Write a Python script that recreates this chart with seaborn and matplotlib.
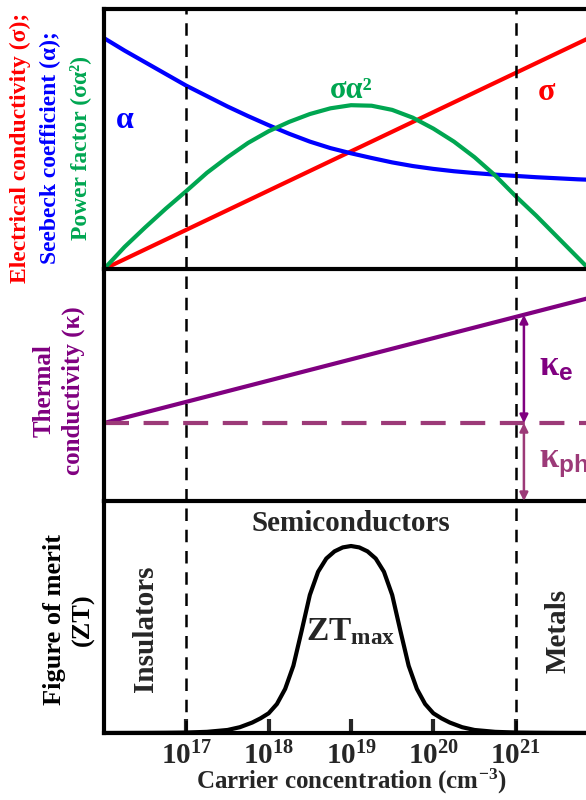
import numpy as np
import pandas as pd
import seaborn as sns
import matplotlib
matplotlib.use("Agg")
import matplotlib.pyplot as plt

# log10 of carrier concentration, 0.25 decade grid for panel 1
logn = [16.0, 16.25, 16.5, 16.75, 17.0, 17.25, 17.5, 17.75, 18.0, 18.25, 18.5, 18.75,
        19.0, 19.25, 19.5, 19.75, 20.0, 20.25, 20.5, 20.75, 21.0, 21.25, 21.5, 21.75, 22.0]
seebeck = [0.888, 0.84, 0.795, 0.75, 0.705, 0.665, 0.625, 0.588, 0.553, 0.52, 0.49, 0.465,
           0.445, 0.427, 0.41, 0.396, 0.385, 0.376, 0.369, 0.363, 0.358, 0.353, 0.349, 0.345, 0.342]
power_factor = [0.0, 0.085, 0.16, 0.232, 0.30, 0.37, 0.43, 0.485, 0.53, 0.566, 0.596, 0.618,
                0.63, 0.628, 0.612, 0.582, 0.54, 0.49, 0.43, 0.36, 0.28, 0.205, 0.125, 0.045, -0.035]
sigma_x = [16.0, 22.0]
sigma = [0.0, 0.905]

# thermal conductivity
kappa_x = [16.0, 22.0]
kappa = [0.336, 0.885]
kappa_ph = 0.336
arrow_x = 21.1
kappa_at_arrow = 0.802

# figure of merit
zt_x = [16.0, 16.5, 16.75, 17.0, 17.25, 17.5, 17.65, 17.8, 17.9, 18.0, 18.1, 18.2, 18.3, 18.4,
        18.5, 18.6, 18.7, 18.8, 18.9, 19.0, 19.1, 19.2, 19.3, 19.4, 19.5, 19.6, 19.7, 19.8,
        19.9, 20.0, 20.1, 20.2, 20.35, 20.5, 20.75, 21.0, 21.25, 21.5, 22.0]
zt = [0.0, 0.0005, 0.001, 0.002, 0.005, 0.013, 0.025, 0.045, 0.063, 0.085, 0.125, 0.19, 0.29,
      0.44, 0.595, 0.695, 0.752, 0.783, 0.80, 0.806, 0.80, 0.783, 0.752, 0.695, 0.595, 0.44,
      0.29, 0.19, 0.125, 0.085, 0.063, 0.045, 0.025, 0.013, 0.005, 0.002, 0.001, 0.0005, 0.0]

ticks = [17, 18, 19, 20, 21]
tick_labels = [r"$\mathregular{10^{%d}}$" % t for t in ticks]
boundaries = [17, 21]

sns.set_theme(style="white")
plt.rcParams['font.family'] = ['Liberation Serif', 'DejaVu Serif']
plt.rcParams['font.weight'] = 'bold'
plt.rcParams['axes.labelweight'] = 'bold'
plt.rcParams['mathtext.fontset'] = 'custom'
plt.rcParams['mathtext.rm'] = 'Liberation Serif:bold'
plt.rcParams['mathtext.bf'] = 'Liberation Serif:bold'
plt.rcParams['mathtext.it'] = 'Liberation Serif:bold:italic'
plt.rcParams['mathtext.sf'] = 'Liberation Sans:bold'

RED, BLUE, GREEN = '#FF0000', '#0000FF', '#00A651'
PURPLE, PLUM = '#800080', '#9C3A78'
LW = 3.0

fig = plt.figure(figsize=(5.86, 8), dpi=100)
W = 0.843
ax1 = fig.add_axes([0.1775, 0.66375, W, 0.325])
ax2 = fig.add_axes([0.1775, 0.37375, W, 0.29])
ax3 = fig.add_axes([0.1775, 0.08375, W, 0.29])

df1 = pd.DataFrame({'logn': logn, 'alpha': seebeck, 'pf': power_factor})
sns.lineplot(x=sigma_x, y=sigma, ax=ax1, color=RED, lw=LW)
sns.lineplot(data=df1, x='logn', y='alpha', ax=ax1, color=BLUE, lw=LW)
sns.lineplot(data=df1, x='logn', y='pf', ax=ax1, color=GREEN, lw=LW)
ax1.text(16.25, 0.573, 'α', color=BLUE, fontsize=23, ha='center', va='center')
ax1.text(19.0, 0.685, 'σα²', color=GREEN, fontsize=22, ha='center', va='center')
ax1.text(21.37, 0.68, 'σ', color=RED, fontsize=23, ha='center', va='center')

sns.lineplot(x=kappa_x, y=kappa, ax=ax2, color=PURPLE, lw=LW)
ax2.axhline(kappa_ph, color=PLUM, lw=LW, dashes=(6, 3.5))
ax2.annotate('', xy=(arrow_x, kappa_at_arrow), xytext=(arrow_x, kappa_ph),
             arrowprops=dict(arrowstyle='<|-|>', color=PURPLE, lw=1.8, mutation_scale=12,
                             shrinkA=0, shrinkB=0))
ax2.annotate('', xy=(arrow_x, kappa_ph), xytext=(arrow_x, 0.0),
             arrowprops=dict(arrowstyle='<|-|>', color=PLUM, lw=1.8, mutation_scale=12,
                             shrinkA=0, shrinkB=0))
ax2.text(21.28, 0.575, r'$\mathrm{κ}_{\mathsf{e}}$', color=PURPLE, fontsize=25, ha='left', va='center')
ax2.text(21.28, 0.16, r'$\mathrm{κ}_{\mathsf{ph}}$', color=PLUM, fontsize=25, ha='left', va='center')

sns.lineplot(x=zt_x, y=zt, ax=ax3, color='black', lw=LW)
ax3.text(19.0, 0.905, 'Semiconductors', fontsize=21, ha='center', va='center')
ax3.text(16.5, 0.45, 'Insulators', fontsize=21, rotation=90, ha='center', va='center')
ax3.text(21.52, 0.44, 'Metals', fontsize=21, rotation=90, ha='center', va='center')
ax3.text(19.0, 0.435, r'$\mathrm{ZT}_{\mathrm{max}}$', fontsize=24, ha='center', va='center')

for ax in (ax1, ax2, ax3):
    ax.patch.set_alpha(0)
    ax.set_xlim(16, 22)
    ax.set_ylim(0, 1)
    for b in boundaries:
        ax.axvline(b, color='black', lw=1.8, dashes=(5, 3.5))
    for s in ['left', 'bottom', 'top', 'right']:
        ax.spines[s].set_linewidth(3)
        ax.spines[s].set_color('black')
    ax.spines['right'].set_visible(False)
    ax.set_yticks([])
    ax.set_xlabel('')
    ax.set_ylabel('')
ax2.spines['top'].set_visible(False)
ax3.spines['top'].set_visible(False)
for ax in (ax1, ax2):
    ax.set_xticks([])

ax3.set_xticks(ticks)
ax3.set_xticklabels(tick_labels, fontsize=21)
ax3.tick_params(axis='x', direction='in', length=10, width=3, pad=6, bottom=True)
ax3.set_xlabel(r'Carrier concentration (cm$^{\mathregular{-3}}$)', fontsize=18,
               fontweight='bold', labelpad=-2)

fig.text(0.034, 0.815, 'Electrical conductivity (σ);', color=RED, fontsize=17,
         rotation=90, ha='center', va='center')
fig.text(0.086, 0.815, 'Seebeck coefficient (α);', color=BLUE, fontsize=17,
         rotation=90, ha='center', va='center')
fig.text(0.136, 0.815, 'Power factor (σα²)', color=GREEN, fontsize=17,
         rotation=90, ha='center', va='center')
fig.text(0.1, 0.512, 'Thermal\nconductivity (κ)', color=PURPLE, fontsize=18,
         rotation=90, ha='center', va='center', multialignment='center', linespacing=1.35)
fig.text(0.117, 0.226, 'Figure of merit\n(ZT)', color='black', fontsize=19,
         rotation=90, ha='center', va='center', multialignment='center', linespacing=1.3)

fig.savefig('out.png', dpi=100)
